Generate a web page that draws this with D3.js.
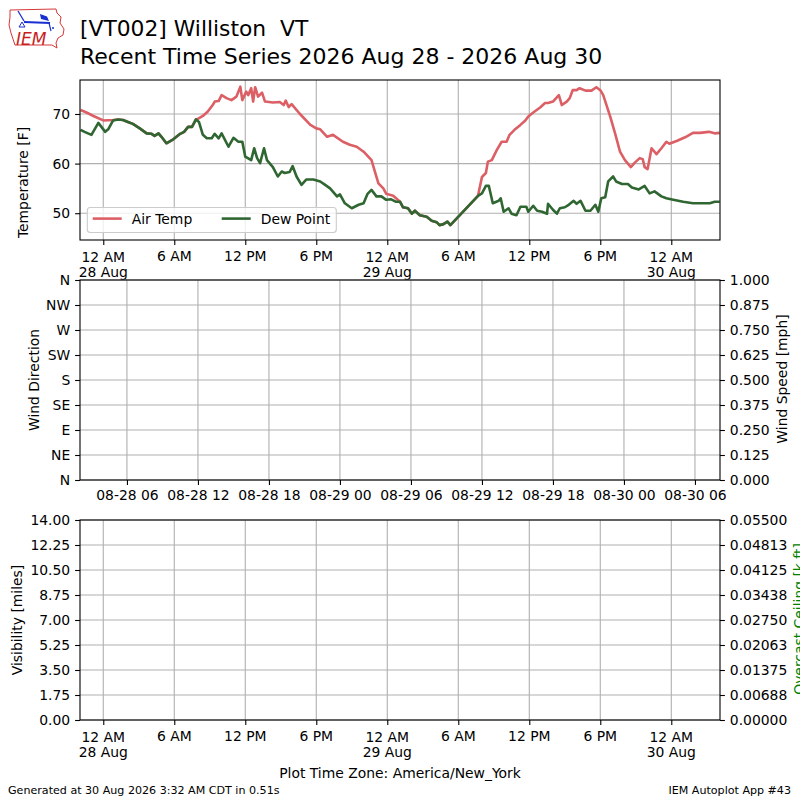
<!DOCTYPE html>
<html><head><meta charset="utf-8">
<script src="https://cdn.jsdelivr.net/npm/d3@7"></script>
<style>body{margin:0;background:#fff} svg{display:block} text{font-family:"DejaVu Sans",sans-serif}</style>
</head><body><svg id="c" width="800" height="800"></svg>
<script>
// ---------------- DATA (times are America/New_York wall clock) ----------------
const tempTimes = ["08-27 22:05","08-27 22:35","08-27 23:10","08-28 00:00","08-28 00:50","08-28 01:15","08-28 01:40","08-28 02:05","08-28 02:30","08-28 03:05","08-28 03:40","08-28 04:05","08-28 04:20","08-28 04:40","08-28 04:55","08-28 05:20","08-28 05:55","08-28 06:30","08-28 06:50","08-28 07:10","08-28 07:30","08-28 07:50","08-28 07:55","08-28 08:25","08-28 08:50","08-28 09:15","08-28 09:25","08-28 09:45","08-28 10:00","08-28 10:25","08-28 10:50","08-28 11:15","08-28 11:25","08-28 11:35","08-28 11:45","08-28 12:05","08-28 12:15","08-28 12:30","08-28 12:40","08-28 12:50","08-28 13:05","08-28 13:25","08-28 13:40","08-28 14:20","08-28 14:55","08-28 15:15","08-28 15:25","08-28 15:40","08-28 15:55","08-28 16:35","08-28 17:30","08-28 18:00","08-28 18:20","08-28 18:55","08-28 19:25","08-28 20:15","08-28 20:50","08-28 21:25","08-28 22:00","08-28 22:40","08-28 22:55","08-28 23:15","08-28 23:40","08-28 23:55","08-29 00:30","08-29 01:05","08-29 01:20","08-29 01:45","08-29 02:05","08-29 02:20","08-29 02:45","08-29 03:20","08-29 03:45","08-29 04:10","08-29 04:25","08-29 04:45","08-29 05:05","08-29 05:20","08-29 07:40","08-29 08:00","08-29 08:20","08-29 08:30","08-29 08:50","08-29 09:15","08-29 09:40","08-29 10:05","08-29 10:20","08-29 10:45","08-29 11:15","08-29 11:40","08-29 11:55","08-29 12:20","08-29 12:55","08-29 13:20","08-29 13:35","08-29 14:00","08-29 14:30","08-29 14:45","08-29 15:10","08-29 15:25","08-29 15:40","08-29 16:00","08-29 16:15","08-29 16:45","08-29 17:15","08-29 17:40","08-29 18:00","08-29 18:15","08-29 18:50","08-29 19:15","08-29 19:40","08-29 20:05","08-29 20:35","08-29 20:55","08-29 21:20","08-29 21:35","08-29 21:45","08-29 22:00","08-29 22:20","08-29 22:45","08-29 23:10","08-29 23:35","08-29 23:50","08-30 00:30","08-30 01:10","08-30 01:50","08-30 02:25","08-30 03:10","08-30 03:40","08-30 04:05"];
const tempValues = [70.8,70.3,69.6,68.7,68.8,68.9,68.8,68.4,68.0,67.1,66.1,66.0,65.6,66.1,65.4,64.1,64.9,66.0,66.4,67.4,67.4,68.9,68.9,69.6,70.5,71.8,72.5,72.6,73.8,73.2,72.8,73.5,74.5,75.5,72.8,74.5,73.8,75.2,72.5,75.4,73.5,74.3,72.5,72.3,72.4,71.8,72.7,71.4,72.0,70.1,67.8,67.1,66.9,65.4,65.8,64.4,63.8,63.4,62.4,60.7,58.7,56.0,55.0,53.9,53.5,52.3,51.2,51.0,49.9,50.5,49.6,49.3,48.5,48.2,47.6,47.8,48.3,47.6,53.5,57.3,58.1,60.4,60.7,62.7,64.4,64.4,65.8,66.8,67.8,68.7,69.5,70.3,71.3,72.2,72.2,72.5,73.8,71.8,72.5,73.2,74.8,74.8,75.2,74.7,74.7,75.4,74.8,73.8,69.5,66.1,62.4,60.7,59.3,60.2,61.1,60.9,59.3,58.9,63.1,61.9,63.1,64.4,64.0,64.6,65.3,66.2,66.2,66.4,66.1,66.2];

const dewTimes = ["08-27 22:05","08-27 22:25","08-27 23:00","08-27 23:35","08-28 00:10","08-28 00:25","08-28 00:50","08-28 01:15","08-28 01:40","08-28 02:05","08-28 02:30","08-28 03:05","08-28 03:40","08-28 04:05","08-28 04:20","08-28 04:40","08-28 04:55","08-28 05:20","08-28 05:55","08-28 06:30","08-28 06:50","08-28 07:10","08-28 07:30","08-28 07:50","08-28 08:05","08-28 08:25","08-28 08:45","08-28 09:10","08-28 09:25","08-28 09:45","08-28 10:00","08-28 10:35","08-28 11:00","08-28 11:25","08-28 11:45","08-28 12:00","08-28 12:30","08-28 12:45","08-28 13:00","08-28 13:15","08-28 13:35","08-28 13:50","08-28 14:20","08-28 14:45","08-28 15:05","08-28 15:20","08-28 15:45","08-28 16:00","08-28 16:20","08-28 16:45","08-28 17:10","08-28 17:45","08-28 18:20","08-28 18:45","08-28 19:10","08-28 19:45","08-28 20:00","08-28 20:25","08-28 21:00","08-28 21:35","08-28 22:00","08-28 22:20","08-28 22:40","08-28 23:05","08-28 23:30","08-28 23:55","08-29 00:20","08-29 00:45","08-29 01:05","08-29 01:20","08-29 01:45","08-29 02:05","08-29 02:20","08-29 02:45","08-29 03:20","08-29 03:45","08-29 04:10","08-29 04:25","08-29 04:45","08-29 05:05","08-29 05:20","08-29 07:40","08-29 08:00","08-29 08:20","08-29 08:35","08-29 08:55","08-29 09:25","08-29 09:35","08-29 09:50","08-29 10:15","08-29 10:30","08-29 10:55","08-29 11:15","08-29 11:45","08-29 11:55","08-29 12:20","08-29 12:40","08-29 13:05","08-29 13:30","08-29 13:35","08-29 14:00","08-29 14:20","08-29 14:35","08-29 15:00","08-29 15:20","08-29 15:45","08-29 16:00","08-29 16:20","08-29 16:45","08-29 17:10","08-29 17:35","08-29 17:50","08-29 18:05","08-29 18:25","08-29 18:40","08-29 19:05","08-29 19:20","08-29 19:50","08-29 20:20","08-29 20:40","08-29 21:15","08-29 21:45","08-29 22:10","08-29 22:35","08-29 23:10","08-29 23:35","08-30 00:10","08-30 01:00","08-30 01:50","08-30 03:15","08-30 03:40","08-30 04:05"];
const dewValues = [66.8,66.4,65.8,68.2,66.4,66.9,68.7,68.9,68.8,68.4,68.0,67.1,66.1,66.0,65.6,66.1,65.4,64.1,64.9,66.0,66.4,67.4,67.4,68.9,68.4,65.8,65.1,65.1,66.0,65.1,66.1,63.4,65.2,64.4,64.4,61.4,60.7,63.1,61.1,60.1,63.1,60.7,59.3,57.4,58.4,58.1,58.3,59.5,57.4,55.7,56.8,56.8,56.4,55.7,55.0,53.4,53.8,52.0,51.0,51.7,52.0,53.9,54.7,53.4,53.4,52.7,52.8,52.3,52.3,51.2,51.0,49.9,50.5,49.6,49.3,48.5,48.2,47.6,47.8,48.3,47.6,53.5,54.0,55.5,55.5,52.0,52.5,53.0,50.3,51.0,49.9,49.6,51.3,51.3,50.3,51.5,50.5,50.3,49.9,51.9,50.7,49.9,51.0,51.2,51.7,52.5,51.9,52.5,50.5,50.5,51.7,50.3,53.0,53.2,56.4,57.4,56.4,55.9,55.9,55.2,54.8,55.5,54.0,54.4,53.4,53.0,52.7,52.3,52.0,52.0,52.3,52.3];

const xDomain = ["08-27 22:02","08-30 04:07"];
const tempDomain = [44.6, 76.85];
const tempTicks = [50, 60, 70];
const hourLabels = ["12 AM","6 AM","12 PM","6 PM"];
const dirTicks = [0,45,90,135,180,225,270,315,360];
const dirLabels = ["N","NE","E","SE","S","SW","W","NW","N"];
const speedTicks = [0,0.125,0.25,0.375,0.5,0.625,0.75,0.875,1.0];
const visTicks = [0,1.75,3.5,5.25,7,8.75,10.5,12.25,14];
const ceilTickLabels = ["0.00000","0.00688","0.01375","0.02063","0.02750","0.03438","0.04125","0.04813","0.05500"];
const ceilMax = 0.055;
const seriesNames = ["Air Temp","Dew Point"];

// ---------------- DRAWING ----------------
const svg = d3.select("#c");
const parse = s => d3.utcParse("%Y-%m-%d %H:%M")("2026-" + s);
const L = 80, R = 720;
const P1 = {t:80, b:240}, P2 = {t:280, b:480}, P3 = {t:520, b:720};
const FS = 13.9, GRID = "#b0b0b0", SPW = 1.1;
const redC = "#dc5f66", greenC = "#2f6631";

const x = d3.scaleUtc().domain(xDomain.map(parse)).range([L, R]);
const localTicks = x.ticks(d3.utcHour.every(6));
const utcOffsetTicks = d3.utcHours(x.domain()[0], x.domain()[1]).filter(d => d.getUTCHours() % 6 === 2);

function grid(g, xt, yt, ys, top, bot) {
  g.selectAll(".vg").data(xt).join("line").attr("x1", d => x(d)).attr("x2", d => x(d))
    .attr("y1", top).attr("y2", bot).attr("stroke", GRID).attr("stroke-width", SPW);
  g.selectAll(".hg").data(yt).join("line").attr("x1", L).attr("x2", R)
    .attr("y1", d => ys(d)).attr("y2", d => ys(d)).attr("stroke", GRID).attr("stroke-width", SPW);
}
function styleAxis(g) {
  g.select(".domain").remove();
  g.selectAll("line").attr("stroke", "#000").attr("stroke-width", SPW);
  g.selectAll("text").attr("font-size", FS).attr("fill", "#000").attr("font-family", "DejaVu Sans");
}
function frame(top, bot) {
  svg.append("rect").attr("x", L).attr("y", top).attr("width", R - L).attr("height", bot - top)
    .attr("fill", "none").attr("stroke", "#000").attr("stroke-width", SPW);
}
function localTimeAxis(bot) {
  const g = svg.append("g").attr("transform", `translate(0,${bot})`)
    .call(d3.axisBottom(x).tickValues(localTicks).tickSize(4.9).tickPadding(4.9).tickFormat(""));
  styleAxis(g);
  localTicks.forEach(d => {
    const h = d.getUTCHours();
    const t = svg.append("text").attr("x", x(d)).attr("text-anchor", "middle").attr("font-size", FS);
    if (h === 0) {
      t.attr("y", bot + 21.5);
      t.append("tspan").attr("x", x(d)).text(hourLabels[0]);
      t.append("tspan").attr("x", x(d)).attr("dy", 15.8).text(d3.utcFormat("%d %b")(d));
    } else {
      t.attr("y", bot + 20.6).text(hourLabels[h / 6]);
    }
  });
}

// ---- Panel 1: temperature ----
const y1 = d3.scaleLinear().domain(tempDomain).range([P1.b, P1.t]);
grid(svg.append("g"), localTicks, tempTicks, y1, P1.t, P1.b);
svg.append("clipPath").attr("id", "clip1").append("rect").attr("x", L).attr("y", P1.t).attr("width", R - L).attr("height", P1.b - P1.t);
const line = d3.line().x(d => x(d[0])).y(d => y1(d[1]));
const tempData = tempTimes.map((t, i) => [parse(t), tempValues[i]]);
const dewData = dewTimes.map((t, i) => [parse(t), dewValues[i]]);
const lg = svg.append("g").attr("clip-path", "url(#clip1)");
lg.append("path").datum(tempData).attr("d", line).attr("fill", "none").attr("stroke", redC).attr("stroke-width", 2.6).attr("stroke-linejoin", "round");
lg.append("path").datum(dewData).attr("d", line).attr("fill", "none").attr("stroke", greenC).attr("stroke-width", 2.6).attr("stroke-linejoin", "round");
styleAxis(svg.append("g").attr("transform", `translate(${L},0)`).call(d3.axisLeft(y1).tickValues(tempTicks).tickSize(4.9).tickPadding(4.9)));
frame(P1.t, P1.b);
localTimeAxis(P1.b);
// legend
const leg = svg.append("g");
leg.append("rect").attr("x", 87.3).attr("y", 207.5).attr("width", 249).attr("height", 25).attr("rx", 3)
  .attr("fill", "#fff").attr("fill-opacity", 0.8).attr("stroke", "#cccccc").attr("stroke-width", 1.1);
[[92.7, redC], [221.7, greenC]].forEach((p, i) => {
  leg.append("line").attr("x1", p[0]).attr("x2", p[0] + 29).attr("y1", 218.6).attr("y2", 218.6).attr("stroke", p[1]).attr("stroke-width", 2.6);
  leg.append("text").attr("x", p[0] + 39).attr("y", 223.8).attr("font-size", FS).text(seriesNames[i]);
});
svg.append("text").attr("transform", "translate(27.5,182.5) rotate(-90)").attr("text-anchor", "middle").attr("font-size", FS).text("Temperature [F]");

// ---- Panel 2: wind ----
const y2 = d3.scaleLinear().domain([0, 360]).range([P2.b, P2.t]);
const y2r = d3.scaleLinear().domain([0, 1]).range([P2.b, P2.t]);
grid(svg.append("g"), utcOffsetTicks, dirTicks, y2, P2.t, P2.b);
styleAxis(svg.append("g").attr("transform", `translate(${L},0)`).call(d3.axisLeft(y2).tickValues(dirTicks).tickSize(4.9).tickPadding(4.9).tickFormat((d, i) => dirLabels[i])));
styleAxis(svg.append("g").attr("transform", `translate(${R},0)`).call(d3.axisRight(y2r).tickValues(speedTicks).tickSize(4.9).tickPadding(4.9).tickFormat(d3.format(".3f"))));
styleAxis(svg.append("g").attr("transform", `translate(0,${P2.b})`).call(d3.axisBottom(x).tickValues(utcOffsetTicks).tickSize(4.9).tickPadding(4.9)
  .tickFormat(d => d3.utcFormat("%m-%d %H")(d3.utcHour.offset(d, 4)))));
frame(P2.t, P2.b);
svg.append("text").attr("transform", "translate(39,380) rotate(-90)").attr("text-anchor", "middle").attr("font-size", FS).text("Wind Direction");
svg.append("text").attr("transform", "translate(786.5,379) rotate(-90)").attr("text-anchor", "middle").attr("font-size", FS).text("Wind Speed [mph]");

// ---- Panel 3: visibility / ceiling ----
const y3 = d3.scaleLinear().domain([0, 14]).range([P3.b, P3.t]);
const y3r = d3.scaleLinear().domain([0, ceilMax]).range([P3.b, P3.t]);
grid(svg.append("g"), localTicks, visTicks, y3, P3.t, P3.b);
styleAxis(svg.append("g").attr("transform", `translate(${L},0)`).call(d3.axisLeft(y3).tickValues(visTicks).tickSize(4.9).tickPadding(4.9).tickFormat(d3.format(".2f"))));
styleAxis(svg.append("g").attr("transform", `translate(${R},0)`).call(d3.axisRight(y3r).tickValues(ceilTickLabels.map((s, i) => i * ceilMax / 8)).tickSize(4.9).tickPadding(4.9).tickFormat((d, i) => ceilTickLabels[i])));
frame(P3.t, P3.b);
localTimeAxis(P3.b);
svg.append("text").attr("transform", "translate(22,620) rotate(-90)").attr("text-anchor", "middle").attr("font-size", FS).text("Visibility [miles]");
svg.append("text").attr("transform", "translate(803.5,619) rotate(-90)").attr("text-anchor", "middle").attr("font-size", FS).attr("fill", "#008000").text("Overcast Ceiling [k ft]");

// ---- Titles & footer ----
svg.append("text").attr("x", 80).attr("y", 36).attr("font-size", 21.8).style("white-space", "pre").text("[VT002] Williston  VT");
svg.append("text").attr("x", 80).attr("y", 64).attr("font-size", 22).text("Recent Time Series 2026 Aug 28 - 2026 Aug 30");
svg.append("text").attr("x", 400).attr("y", 778).attr("text-anchor", "middle").attr("font-size", FS).text("Plot Time Zone: America/New_York");
svg.append("text").attr("x", 8).attr("y", 793.5).attr("font-size", 11.1).text("Generated at 30 Aug 2026 3:32 AM CDT in 0.51s");
svg.append("text").attr("x", 791).attr("y", 793.5).attr("text-anchor", "end").attr("font-size", 11.1).text("IEM Autoplot App #43");

// ---- IEM logo ----
const logo = svg.append("g");
logo.append("path").attr("d", "M10,10 L56,9 L57,13 L61,17 L60,23 L64,29 L63,35 L58,38 L56,43 L57,48 L52,45 L15,45 L13,39 L11,33 L9,25 L10,17 Z")
  .attr("fill", "none").attr("stroke", "#d02020").attr("stroke-width", 0.9);
logo.append("text").attr("x", 16).attr("y", 44.5).attr("font-family", "Liberation Serif").attr("font-style", "italic")
  .attr("font-size", 17).attr("fill", "#c81e1e").text("IEM");
logo.append("line").attr("x1", 24).attr("y1", 22).attr("x2", 50).attr("y2", 23).attr("stroke", "#1a2fd0").attr("stroke-width", 2.2);
logo.append("path").attr("d", "M40,14 L47,16.5 L49,21 L41,19 Z").attr("fill", "#1a2fd0");
logo.append("line").attr("x1", 18).attr("y1", 11).attr("x2", 24).attr("y2", 21).attr("stroke", "#1a2fd0").attr("stroke-width", 1.3);
logo.append("path").attr("d", "M19,27 L22,22 L25,27 Z").attr("fill", "none").attr("stroke", "#1a2fd0").attr("stroke-width", 1);
logo.append("line").attr("x1", 49).attr("y1", 23).attr("x2", 51).attr("y2", 31).attr("stroke", "#1a2fd0").attr("stroke-width", 1.2);
logo.append("circle").attr("cx", 53).attr("cy", 28).attr("r", 1).attr("fill", "#1a2fd0");
</script></body></html>
